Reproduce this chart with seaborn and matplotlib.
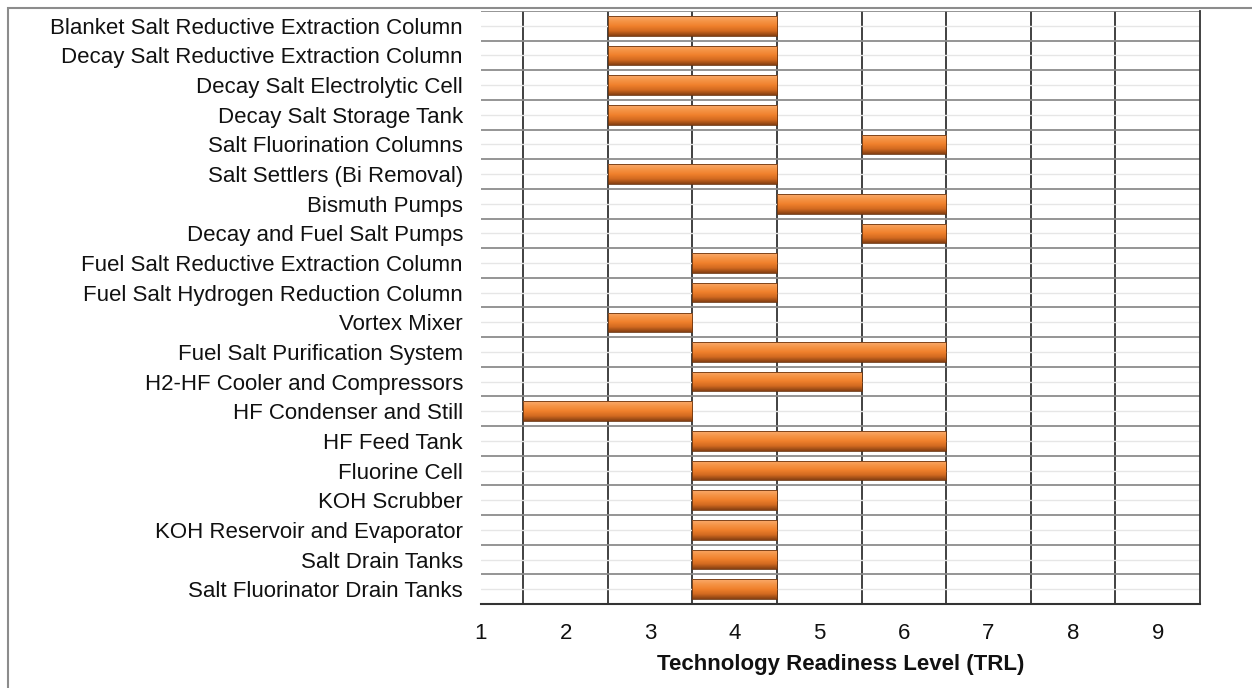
import numpy as np
import pandas as pd
import matplotlib
matplotlib.use('Agg')
import matplotlib.pyplot as plt
from matplotlib.colors import LinearSegmentedColormap
from matplotlib.patches import Rectangle
import seaborn as sns

components = [
    "Blanket Salt Reductive Extraction Column",
    "Decay Salt Reductive Extraction Column",
    "Decay Salt Electrolytic Cell",
    "Decay Salt Storage Tank",
    "Salt Fluorination Columns",
    "Salt Settlers (Bi Removal)",
    "Bismuth Pumps",
    "Decay and Fuel Salt Pumps",
    "Fuel Salt Reductive Extraction Column",
    "Fuel Salt Hydrogen Reduction Column",
    "Vortex Mixer",
    "Fuel Salt Purification System",
    "H2-HF Cooler and Compressors",
    "HF Condenser and Still",
    "HF Feed Tank",
    "Fluorine Cell",
    "KOH Scrubber",
    "KOH Reservoir and Evaporator",
    "Salt Drain Tanks",
    "Salt Fluorinator Drain Tanks",
]
trl_low = [3, 3, 3, 3, 6, 3, 5, 6, 4, 4, 3, 4, 4, 2, 4, 4, 4, 4, 4, 4]
trl_high = [4, 4, 4, 4, 6, 4, 6, 6, 4, 4, 3, 6, 5, 3, 6, 6, 4, 4, 4, 4]
trl_ticks = [1, 2, 3, 4, 5, 6, 7, 8, 9]

df = pd.DataFrame({"component": components, "low": trl_low, "high": trl_high})
df["start"] = df["low"] - 0.5
df["span"] = df["high"] - df["low"] + 1

sns.set_style("white")
plt.rcParams['font.family'] = ['Liberation Sans', 'DejaVu Sans']
fs = 16

fig = plt.figure(figsize=(12.52, 6.88), dpi=100)
ax = fig.add_axes([481 / 1252, 1 - 604 / 688, (1200 - 481) / 1252, 593 / 688])

sns.barplot(data=df, x="span", y="component", orient="h", left=df["start"].values,
            width=0.66, errorbar=None, color="#F07F2A", edgecolor="#6B3510",
            linewidth=0.6, ax=ax, zorder=3)

# gradient fill like the original 3D-ish bars
grad = LinearSegmentedColormap.from_list(
    "bar", ["#FAAA6C", "#F59446", "#F0802C", "#D26A20", "#853F12"])
g = np.linspace(0, 1, 64).reshape(-1, 1)
for p in ax.patches:
    x0, y0 = p.get_x(), p.get_y()
    w, h = p.get_width(), p.get_height()
    im = ax.imshow(g, cmap=grad, aspect='auto', extent=[x0, x0 + w, y0 + h, y0],
                   zorder=3.5, interpolation='bilinear')
    im.set_clip_path(p)
    p.set_facecolor("none")
    p.set_zorder(4)

n = len(components)
ax.set_xlim(1, 9.5)
ax.set_ylim(n - 0.5, -0.5)
ax.set_xticks(trl_ticks)
ax.set_xticks(np.arange(1.5, 9.5, 1), minor=True)
ax.set_yticks(range(n))
ax.set_yticklabels(components)
ax.set_yticks(np.arange(-0.5, n, 1), minor=True)

ax.grid(False)
ax.grid(axis='x', which='minor', color='#333333', linewidth=1.3, zorder=1)
ax.grid(axis='y', which='minor', color='#8c8c8c', linewidth=1.3, zorder=1)
ax.grid(axis='y', which='major', color='#e6e6e6', linewidth=1.0, zorder=0.5)
ax.set_axisbelow(True)
ax.tick_params(which='both', length=0)
ax.tick_params(axis='y', labelsize=fs, pad=13, colors='#111111')
ax.tick_params(axis='x', labelsize=fs, pad=14, colors='#111111')

for s in ['top', 'left']:
    ax.spines[s].set_visible(False)
ax.spines['bottom'].set_color('#333333')
ax.spines['bottom'].set_linewidth(1.5)
ax.spines['right'].set_color('#333333')
ax.spines['right'].set_linewidth(1.3)

ax.set_ylabel("")
ax.set_xlabel("Technology Readiness Level (TRL)", fontsize=fs, fontweight='bold',
              labelpad=7, color='#111111')

# outer chart border (cropped at right and bottom)
fig.add_artist(Rectangle((8 / 1252, -0.5), 2, 1.5 - 8 / 688, transform=fig.transFigure,
                         fill=False, edgecolor='#8c8c8c', linewidth=1.5))

fig.savefig("out.png", dpi=100)
